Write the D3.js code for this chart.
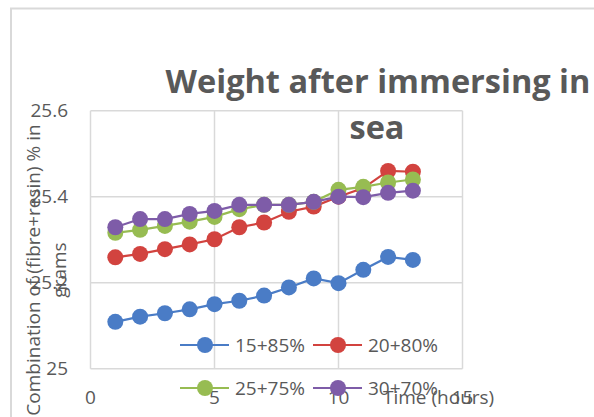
<!DOCTYPE html>
<html>
<head>
<meta charset="utf-8">
<script src="https://cdn.jsdelivr.net/npm/d3@7"></script>
<style>
  body { margin: 0; background: #fff; }
  svg { display: block; }
</style>
</head>
<body>
<svg id="chart"></svg>
<script>
// data
var hours = [1, 2, 3, 4, 5, 6, 7, 8, 9, 10, 11, 12, 13];
var s15 = [25.109, 25.121, 25.129, 25.138, 25.150, 25.158, 25.170, 25.189, 25.210, 25.199, 25.230, 25.260, 25.253];
var s20 = [25.259, 25.267, 25.278, 25.289, 25.301, 25.329, 25.340, 25.365, 25.377, 25.400, 25.420, 25.460, 25.458];
var s25 = [25.316, 25.323, 25.332, 25.342, 25.353, 25.371, 25.381, 25.381, 25.388, 25.416, 25.423, 25.433, 25.440];
var s30 = [25.329, 25.348, 25.348, 25.360, 25.367, 25.381, 25.381, 25.381, 25.388, 25.400, 25.399, 25.409, 25.414];
var seriesNames = ["15+85%", "20+80%", "25+75%", "30+70%"];
var xTicks = [0, 5, 10, 15];
var yTicks = [25, 25.2, 25.4, 25.6];

var W = 594, H = 417;
var colors = ["#4A7CC6", "#D2433F", "#97BC52", "#7E5CA8"];
var txt = "#595959", grid = "#d9d9d9";
var font = "'Open Sans', Lato, sans-serif";

var svg = d3.select("#chart").attr("width", W).attr("height", H)
    .style("font-family", font);

// outer chart border (only top + left visible)
svg.append("path")
    .attr("d", "M11,417 V8.5 H594")
    .attr("fill", "none")
    .attr("stroke", grid)
    .attr("stroke-width", 2);

var x = d3.scaleLinear().domain([0, 15]).range([90.5, 462.5]);
var y = d3.scaleLinear().domain([25, 25.6]).range([368.7, 110.7]);

var g = svg.append("g");

// gridlines
g.selectAll("line.hg").data(yTicks).enter().append("line")
    .attr("class", "hg")
    .attr("x1", x(0)).attr("x2", x(15))
    .attr("y1", d => y(d)).attr("y2", d => y(d))
    .attr("stroke", grid).attr("stroke-width", 1.5);
g.selectAll("line.vg").data(xTicks).enter().append("line")
    .attr("class", "vg")
    .attr("x1", d => x(d)).attr("x2", d => x(d))
    .attr("y1", y(25.6)).attr("y2", y(25))
    .attr("stroke", grid).attr("stroke-width", 1.5);

// y tick labels
g.selectAll("text.yt").data(yTicks).enter().append("text")
    .attr("class", "yt")
    .attr("x", 68).attr("y", d => y(d))
    .attr("dy", "0.35em")
    .attr("text-anchor", "end")
    .attr("fill", txt).attr("font-size", 19)
    .text(d => d3.format("")(d));

// x tick labels (sit low, as in the original)
g.selectAll("text.xt").data(xTicks).enter().append("text")
    .attr("class", "xt")
    .attr("x", d => x(d)).attr("y", 397)
    .attr("dy", "0.35em")
    .attr("text-anchor", "middle")
    .attr("fill", txt).attr("font-size", 19)
    .text(d => d);

// series
var all = [s15, s20, s25, s30];
var line = d3.line().x((d, i) => x(hours[i])).y(d => y(d));
all.forEach(function (s, k) {
    var sg = g.append("g");
    sg.append("path").datum(s)
        .attr("d", line)
        .attr("fill", "none")
        .attr("stroke", colors[k])
        .attr("stroke-width", 2.2);
    sg.selectAll("circle").data(s).enter().append("circle")
        .attr("cx", (d, i) => x(hours[i]))
        .attr("cy", d => y(d))
        .attr("r", 8)
        .attr("fill", colors[k]);
});

// legend
var legPos = [[180, 345], [313, 345], [180, 388], [313, 388]];
seriesNames.forEach(function (name, k) {
    var lg = svg.append("g").attr("transform", "translate(" + legPos[k][0] + "," + legPos[k][1] + ")");
    lg.append("line").attr("x1", 0).attr("x2", 49)
        .attr("stroke", colors[k]).attr("stroke-width", 2.2);
    lg.append("circle").attr("cx", 25).attr("r", 8).attr("fill", colors[k]);
    lg.append("text").attr("x", 55).attr("dy", "0.35em")
        .attr("fill", txt).attr("font-size", 19)
        .text(name);
});

// axis titles
svg.append("text")
    .attr("x", 383).attr("y", 397).attr("dy", "0.35em")
    .attr("fill", txt).attr("font-size", 19)
    .text("Time  (hours)");

var yt = svg.append("text")
    .attr("transform", "translate(33,270) rotate(-90)")
    .attr("text-anchor", "middle")
    .attr("fill", txt).attr("font-size", 19);
yt.append("tspan").attr("x", 0).attr("dy", "0.35em").text("Combination of (fibre+resin) % in");
yt.append("tspan").attr("x", 0).attr("dy", "1.4em").text("grams");

// title
var title = svg.append("text")
    .attr("text-anchor", "middle")
    .attr("fill", txt)
    .attr("font-size", 32.5)
    .attr("font-weight", "bold");
title.append("tspan").attr("x", 378).attr("y", 93).text("Weight after immersing in");
title.append("tspan").attr("x", 377).attr("y", 139).text("sea");
</script>
</body>
</html>
